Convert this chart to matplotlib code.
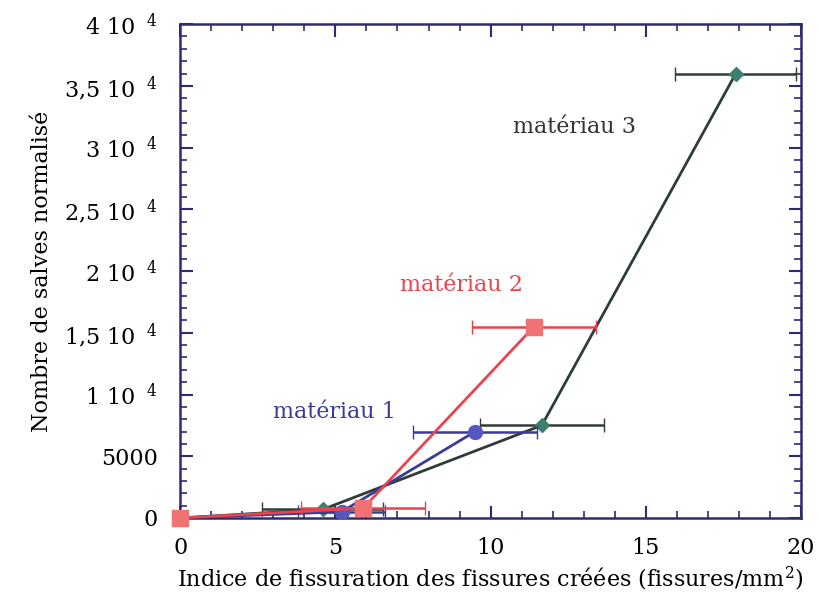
import matplotlib
matplotlib.use("Agg")
import matplotlib.pyplot as plt
from matplotlib.ticker import MultipleLocator

plt.rcParams["font.family"] = ["DejaVu Serif"]
plt.rcParams["mathtext.fontset"] = "dejavuserif"

# matériau 1
x1 = [0, 5.2, 9.5]
y1 = [0, 500, 7000]
e1 = [0, 1.4, 2.0]
# matériau 2
x2 = [0, 5.9, 11.4]
y2 = [0, 800, 15500]
e2 = [0, 2.0, 2.0]
# matériau 3
x3 = [0, 4.6, 11.65, 17.9]
y3 = [0, 700, 7500, 36000]
e3 = [0, 1.95, 2.0, 1.95]

y_ticks = [0, 5000, 10000, 15000, 20000, 25000, 30000, 35000, 40000]
y_labels = ["0", "5000", "1 10 $^{\\ 4}$", "1,5 10 $^{\\ 4}$", "2 10 $^{\\ 4}$",
            "2,5 10 $^{\\ 4}$", "3 10 $^{\\ 4}$", "3,5 10 $^{\\ 4}$", "4 10 $^{\\ 4}$"]

axis_col = "#2c2c6e"
c1, m1 = "#3b3b98", "#5656c0"
c2, m2 = "#e8444e", "#f07272"
c3, m3 = "#2e3d36", "#3f7f70"

fig = plt.figure(figsize=(8.19, 6.03), dpi=100)
ax = fig.add_axes([0.22, 0.141, 0.758, 0.819])

ax.errorbar(x3, y3, xerr=e3, color=c3, lw=2, marker="D", ms=7, mfc=m3, mec=m3,
            capsize=5, elinewidth=1.8, zorder=3)
ax.errorbar(x1, y1, xerr=e1, color=c1, lw=2, marker="o", ms=10, mfc=m1, mec=m1,
            capsize=5, elinewidth=1.8, zorder=4)
ax.errorbar(x2, y2, xerr=e2, color=c2, lw=2, marker="s", ms=11, mfc=m2, mec=m2,
            capsize=5, elinewidth=1.8, zorder=5, clip_on=False)

ax.text(12.7, 31700, "matériau 3", color="#333333", fontsize=16, ha="center", va="center")
ax.text(9.05, 18900, "matériau 2", color=c2, fontsize=16, ha="center", va="center")
ax.text(4.98, 8600, "matériau 1", color=c1, fontsize=16, ha="center", va="center")

ax.set_xlim(0, 20)
ax.set_ylim(0, 40000)
ax.xaxis.set_major_locator(MultipleLocator(5))
ax.xaxis.set_minor_locator(MultipleLocator(1))
ax.set_yticks(y_ticks)
ax.set_yticklabels(y_labels)
ax.yaxis.set_minor_locator(MultipleLocator(1000))

ax.tick_params(which="both", direction="in", top=True, right=True, color=axis_col,
               labelsize=16)
ax.tick_params(axis="x", pad=14)
ax.tick_params(axis="y", pad=16)
ax.tick_params(which="major", length=9, width=1.5)
ax.tick_params(which="minor", length=5, width=1.2)
for s in ax.spines.values():
    s.set_color(axis_col)
    s.set_linewidth(1.8)

ax.set_xlabel("Indice de fissuration des fissures créées (fissures/mm$^2$)", fontsize=16, labelpad=4)
ax.set_ylabel("Nombre de salves normalisé", fontsize=16, labelpad=8)

fig.savefig("out.png", dpi=100)
